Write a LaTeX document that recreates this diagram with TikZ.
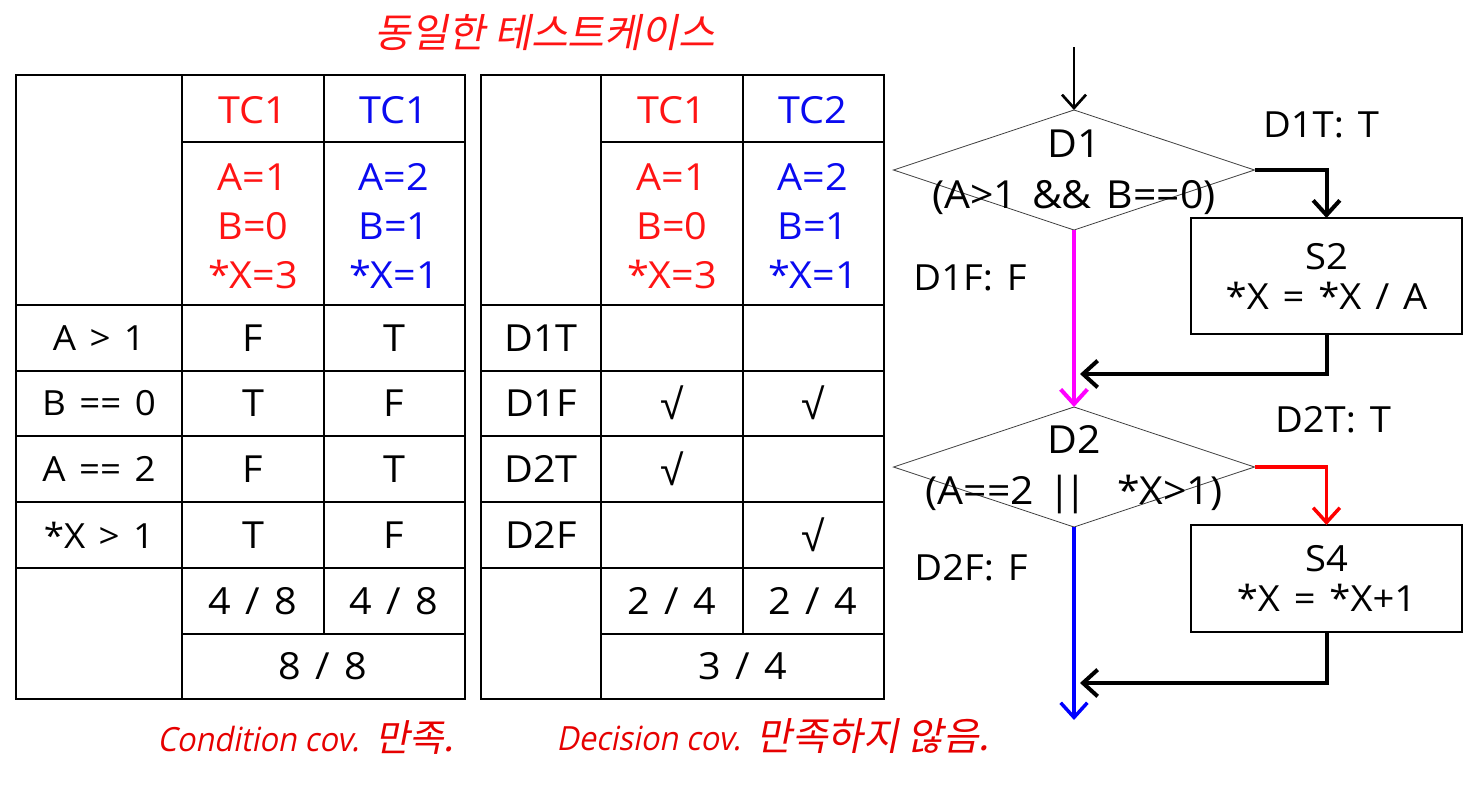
\documentclass[tikz,border=0pt]{standalone}
\usepackage{fontspec}
\setmainfont{Open Sans}[FakeStretch=1.06,WordSpace=1.4]
\newfontfamily\krfont{Noto Sans CJK KR}
\newfontfamily\kritfont{Noto Sans CJK KR}[FakeSlant=0.2]
\newfontfamily\itfont{Open Sans}[FakeSlant=0.2,FakeStretch=0.92]
\newfontfamily\chkfont{Liberation Sans}
\usetikzlibrary{shapes.geometric,arrows.meta}

\definecolor{tcred}{RGB}{255,20,20}
\definecolor{tcblue}{RGB}{10,10,240}
\definecolor{capred}{RGB}{230,0,0}
\definecolor{fcmag}{RGB}{255,0,255}
\definecolor{fcred}{RGB}{255,0,0}
\definecolor{fcblue}{RGB}{0,0,255}

\tikzset{
  grid/.style={line width=1.4pt},
  cell/.style={inner sep=0pt,align=center,font=\fontsize{28}{36.75}\selectfont},
  chk/.style={inner sep=0pt,font=\chkfont\fontsize{32}{34}\selectfont},
  rowlab/.style={inner sep=0pt,font=\fontsize{26}{32}\selectfont},
  decision/.style={diamond,draw=black!75,line width=0.6pt,inner sep=0pt,outer sep=0pt,
    minimum width=270.75pt,minimum height=90pt},
  stmt/.style={rectangle,draw,line width=1pt,inner sep=0pt,outer sep=0pt,
    minimum width=203.25pt,align=center,font=\fontsize{27}{30}\selectfont},
  fctext/.style={inner sep=0pt,align=center,font=\fontsize{29}{38}\selectfont},
  edgelab/.style={inner sep=0pt,font=\fontsize{27}{32}\selectfont},
  flow/.style={line width=3pt,-{Straight Barb[length=11pt,width=20pt]}},
}

\begin{document}
\begin{tikzpicture}[x=0.75pt,y=-0.75pt]
\path[fill=white] (0,0) rectangle (1472,785);

% title
\node[inner sep=0pt,text=tcred,font=\kritfont\fontsize{30}{34}\selectfont] (title) at (545,33) {동일한 테스트케이스};

% condition coverage table
\draw[grid] (16,75) rectangle (465,699);
\draw[grid] (182,75) -- (182,699);
\draw[grid] (324,75) -- (324,634);
\draw[grid] (182,142) -- (465,142);
\draw[grid] (16,305) -- (465,305);
\draw[grid] (16,371) -- (465,371);
\draw[grid] (16,436) -- (465,436);
\draw[grid] (16,502) -- (465,502);
\draw[grid] (16,568) -- (465,568);
\draw[grid] (182,634) -- (465,634);

\node[cell,text=tcred] (ctcA) at (253,110) {TC1};
\node[cell,text=tcblue] (ctcB) at (394,110) {TC1};
\node[cell,text=tcred] (cinA) at (253,226) {A=1\\B=0\\*X=3};
\node[cell,text=tcblue] (cinB) at (394,226) {A=2\\B=1\\*X=1};

\node[rowlab] (cr1) at (99,338) {A > 1};
\node[rowlab] (cr2) at (99,403) {B == 0};
\node[rowlab] (cr3) at (99,469) {A == 2};
\node[rowlab] (cr4) at (99,535) {*X > 1};

\node[cell] (cA1) at (253,338) {F};
\node[cell] (cA2) at (253,403) {T};
\node[cell] (cA3) at (253,469) {F};
\node[cell] (cA4) at (253,535) {T};
\node[cell] (cB1) at (394,338) {T};
\node[cell] (cB2) at (394,403) {F};
\node[cell] (cB3) at (394,469) {T};
\node[cell] (cB4) at (394,535) {F};

\node[cell] (csumA) at (253,601) {4 / 8};
\node[cell] (csumB) at (394,601) {4 / 8};
\node[cell] (ctotal) at (323,666) {8 / 8};

% decision coverage table
\draw[grid] (481,75) rectangle (884,699);
\draw[grid] (601,75) -- (601,699);
\draw[grid] (743,75) -- (743,634);
\draw[grid] (601,142) -- (884,142);
\draw[grid] (481,305) -- (884,305);
\draw[grid] (481,371) -- (884,371);
\draw[grid] (481,436) -- (884,436);
\draw[grid] (481,502) -- (884,502);
\draw[grid] (481,568) -- (884,568);
\draw[grid] (601,634) -- (884,634);

\node[cell,text=tcred] (dtcA) at (672,110) {TC1};
\node[cell,text=tcblue] (dtcB) at (813,110) {TC2};
\node[cell,text=tcred] (dinA) at (672,226) {A=1\\B=0\\*X=3};
\node[cell,text=tcblue] (dinB) at (813,226) {A=2\\B=1\\*X=1};

\node[cell] (dr1) at (541,338) {D1T};
\node[cell] (dr2) at (541,403) {D1F};
\node[cell] (dr3) at (541,469) {D2T};
\node[cell] (dr4) at (541,535) {D2F};

\node[chk] (dA2) at (672,403) {√};
\node[chk] (dA3) at (672,469) {√};
\node[chk] (dB2) at (813,403) {√};
\node[chk] (dB4) at (813,535) {√};

\node[cell] (dsumA) at (672,601) {2 / 4};
\node[cell] (dsumB) at (813,601) {2 / 4};
\node[cell] (dtotal) at (743,666) {3 / 4};

% captions
\node[inner sep=0pt,anchor=west,text=capred] (ccap) at (157,738)
  {{\itfont\fontsize{25}{28}\selectfont Condition cov.}\hspace{12pt}{\kritfont\fontsize{28}{30}\selectfont 만족.}};
\node[inner sep=0pt,anchor=west,text=capred] (dcap) at (556,736)
  {{\itfont\fontsize{25}{28}\selectfont Decision cov.}\hspace{12pt}{\kritfont\fontsize{29}{30}\selectfont 만족하지 않음.}};

% control flow graph
\node[decision] (d1) at (1074,170) {};
\node[fctext] (d1txt) at (1074,172) {D1\\(A>1 \&\& B==0)};
\node[stmt,minimum height=87pt] (s2) at (1326.5,276) {S2\\*X = *X / A};
\node[decision] (d2) at (1074,467) {};
\node[fctext] (d2txt) at (1074,470) {D2\\(A==2 |\kern-5pt|\ \ *X>1)};
\node[stmt,minimum height=80.25pt] (s4) at (1326.5,578.5) {S4\\*X = *X+1};

\coordinate (entry) at (1074,47);
\coordinate (join1) at (1080,374);
\coordinate (join2) at (1080,683);
\coordinate (exit) at (1074,720);

\draw[line width=2pt,-{Straight Barb[length=10pt,width=18pt]}] (entry) -- (d1.north);
\draw[flow] (d1.east) -| (s2.north);
\draw[flow] (s2.south) |- (join1);
\draw[flow,draw=fcmag] (d1.south) -- (d2.north);
\draw[flow,line width=2.6pt,draw=fcred] (d2.east) -| (s4.north);
\draw[flow] (s4.south) |- (join2);
\draw[flow,line width=2.6pt,draw=fcblue] (d2.south) -- (exit);

\node[edgelab] (d1tlab) at (1321,125) {D1T: T};
\node[edgelab] (d1flab) at (970,278) {D1F: F};
\node[edgelab] (d2tlab) at (1333,420) {D2T: T};
\node[edgelab] (d2flab) at (971,568) {D2F: F};
\end{tikzpicture}
\end{document}
